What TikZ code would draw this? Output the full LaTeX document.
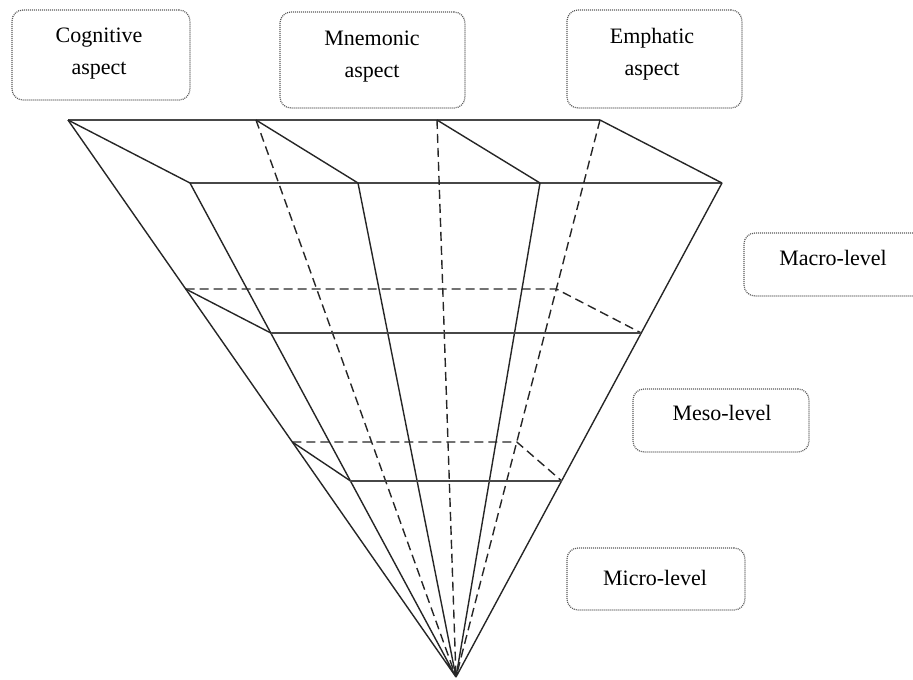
\documentclass[tikz,border=0pt]{standalone}
\usepackage{fontspec}
\setmainfont{Liberation Serif}
\usetikzlibrary{calc}
\begin{document}
\begin{tikzpicture}[x=1pt,y=-1pt,
 edge/.style={line width=1.4pt, draw=black!85},
 dashedge/.style={edge, dash pattern=on 9pt off 5pt},
 hedge/.style={line width=2.2pt, draw=black!72},
 box/.style={draw=black!65, line width=1.2pt, dash pattern=on 1pt off 1pt, rounded corners=11pt, inner sep=0pt},
 lbl/.style={font=\fontsize{22}{32}\selectfont, align=center, inner sep=0pt}]
\useasboundingbox (0,0) rectangle (913,680);
% boxes
\node[box, minimum width=178pt, minimum height=90pt] (cogbox) at (101,55) {};
\node[box, minimum width=185pt, minimum height=96pt] (mnebox) at (372.5,60) {};
\node[box, minimum width=175pt, minimum height=98pt] (empbox) at (654.5,59) {};
\node[box, minimum width=190pt, minimum height=63pt] (macbox) at (839,264.5) {};
\node[box, minimum width=176pt, minimum height=63pt] (mesbox) at (721,420.5) {};
\node[box, minimum width=178pt, minimum height=62pt] (micbox) at (656,579) {};
% labels
\node[lbl] (cog) at (99,54) {Cognitive\\aspect};
\node[lbl] (mne) at (372,57) {Mnemonic\\aspect};
\node[lbl] (emp) at (652,54) {Emphatic\\aspect};
\node[lbl] (mac) at (833,258) {Macro-level};
\node[lbl] (mes) at (722,413) {Meso-level};
\node[lbl] (mic) at (655,578) {Micro-level};
% pyramid points
\coordinate (A) at (456,677);
\coordinate (B1) at (68,120);
\coordinate (B2) at (256,120);
\coordinate (B3) at (437,120);
\coordinate (B4) at (600,120);
\coordinate (F1) at (190,183);
\coordinate (F2) at (358,183);
\coordinate (F3) at (540,183);
\coordinate (F4) at (722,183);
\coordinate (mb1) at ($(B1)!0.3034!(A)$);
\coordinate (mb2) at ($(B4)!0.3034!(A)$);
\coordinate (mf1) at ($(F1)!0.3036!(A)$);
\coordinate (mf2) at ($(F4)!0.3036!(A)$);
\coordinate (lb1) at ($(B1)!0.578!(A)$);
\coordinate (lb2) at ($(B4)!0.578!(A)$);
\coordinate (lf1) at ($(F1)!0.603!(A)$);
\coordinate (lf2) at ($(F4)!0.603!(A)$);
% top face
\draw[hedge] (B1) -- (B4);
\draw[hedge] (F1) -- (F4);
\draw[edge] (B1) -- (F1) (B2) -- (F2) (B3) -- (F3) (B4) -- (F4);
% rays to apex
\draw[edge] (B1) -- (A) (F1) -- (A) (F2) -- (A) (F3) -- (A) (F4) -- (A);
\draw[dashedge] (B2) -- (A) (B3) -- (A) (B4) -- (A);
% middle section
\draw[dashedge] (mb1) -- (mb2) -- (mf2);
\draw[edge] (mb1) -- (mf1);
\draw[hedge, line width=1.8pt] (mf1) -- (mf2);
% lower section
\draw[dashedge] (lb1) -- (lb2) -- (lf2);
\draw[edge] (lb1) -- (lf1);
\draw[hedge, line width=1.8pt] (lf1) -- (lf2);
\end{tikzpicture}
\end{document}
